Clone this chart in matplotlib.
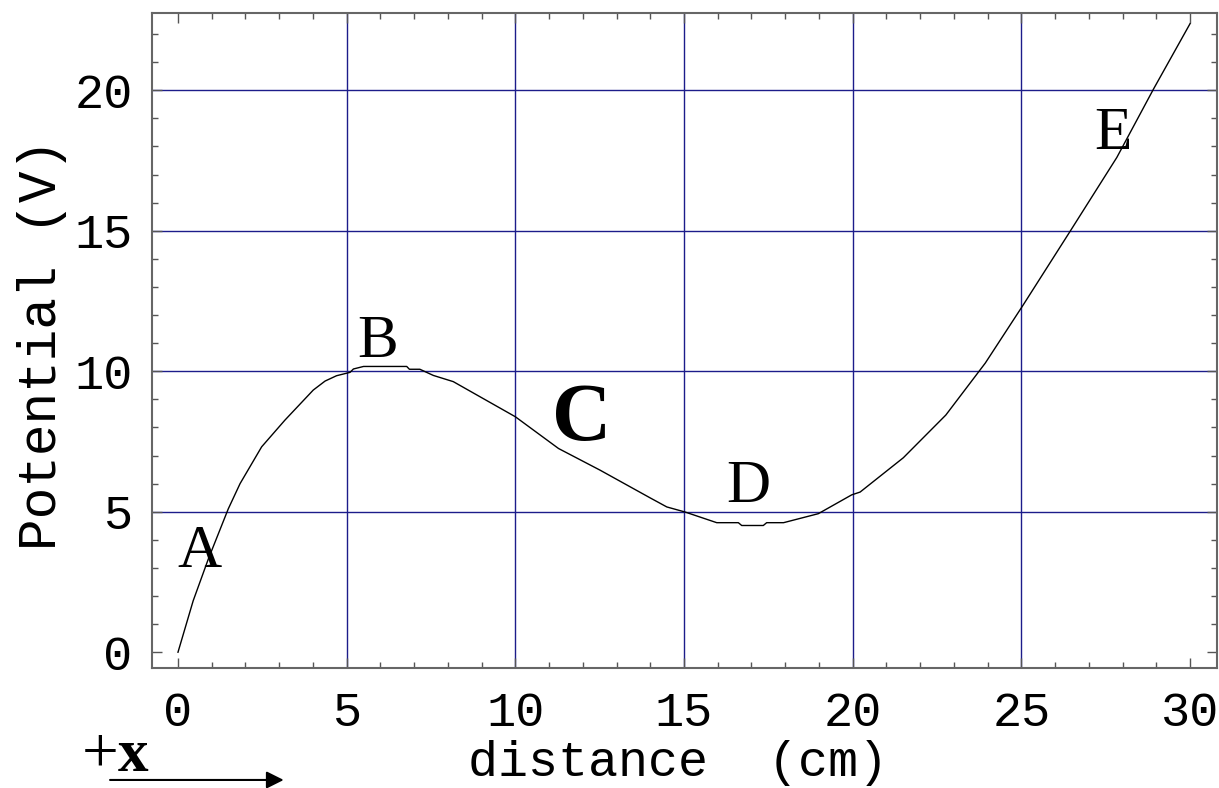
import numpy as np
import matplotlib
matplotlib.use("Agg")
import matplotlib.pyplot as plt
from matplotlib.ticker import MultipleLocator

# potential along the x axis
dist = [0, 0.45, 0.9, 1.49, 1.84, 2.48, 3.17, 4.01, 4.36, 4.7, 5.1, 5.2, 5.5,
        6.78, 6.86, 7.17, 7.57, 8.16, 10.0, 11.28, 12.51, 14.0, 14.49, 15.03,
        15.97, 16.61, 16.71, 17.35, 17.45, 17.95, 18.98, 19.97, 20.22, 21.5,
        22.76, 23.93, 25.06, 26.45, 27.83, 28.92, 30.0]
volts = [0, 1.83, 3.32, 5.1, 6.0, 7.31, 8.26, 9.33, 9.65, 9.84, 9.96, 10.08, 10.17,
         10.17, 10.07, 10.07, 9.85, 9.63, 8.38, 7.25, 6.48, 5.49, 5.17, 4.99,
         4.61, 4.61, 4.51, 4.51, 4.61, 4.61, 4.93, 5.6, 5.7, 6.92,
         8.44, 10.29, 12.37, 14.99, 17.61, 20.05, 22.37]

point_names = ["A", "B", "C", "D", "E"]
point_x = [0.65, 5.93, 11.95, 16.9, 27.72]
point_y = [3.04, 10.5, 7.55, 5.35, 17.9]

xticks = [0, 5, 10, 15, 20, 25, 30]
yticks = [0, 5, 10, 15, 20]

mono = "Liberation Mono"
serif = "Liberation Serif"
grid_col = "#1c1c8a"

fig = plt.figure(figsize=(12.19, 7.88), dpi=100)
ax = fig.add_axes([0.1247, 0.1527, 0.8737, 0.8312])

for gx in xticks[1:-1]:
    ax.axvline(gx, color=grid_col, lw=1.0, zorder=1)
for gy in yticks[1:]:
    ax.axhline(gy, color=grid_col, lw=1.0, zorder=1)

ax.plot(dist, volts, color="black", lw=1.0, zorder=3)

for name, px, py in zip(point_names, point_x, point_y):
    if name == "C":
        ax.text(px, py, name, ha="center", va="baseline", family=serif,
                fontsize=59, fontweight="bold")
    else:
        ax.text(px, py, name, ha="center", va="baseline", family=serif, fontsize=44)

ax.set_xlim(-0.77, 30.8)
ax.set_ylim(-0.55, 22.76)
ax.set_xticks(xticks)
ax.set_yticks(yticks)
ax.xaxis.set_minor_locator(MultipleLocator(1))
ax.yaxis.set_minor_locator(MultipleLocator(1))
ax.tick_params(which="both", direction="in", top=True, right=True, color="#555555")
ax.tick_params(which="major", length=7, width=1)
ax.tick_params(which="minor", length=4, width=1)
ax.tick_params(axis="x", pad=17)
ax.tick_params(axis="y", pad=14)
for lab in ax.get_xticklabels() + ax.get_yticklabels():
    lab.set_family(mono)
    lab.set_fontsize(35)
for sp in ax.spines.values():
    sp.set_color("#666666")
    sp.set_linewidth(1.5)

ax.set_xlabel("distance  (cm)", family=mono, fontsize=36)
ax.xaxis.set_label_coords(0.494, -0.11)
ax.set_ylabel("Potential (V)", family=mono, fontsize=38)
ax.yaxis.set_label_coords(-0.08, 0.494)

# +x direction marker below the axis
fig.text(0.067, 0.021, "+", family=serif, fontsize=47, ha="left", va="baseline")
fig.text(0.097, 0.021, "x", family=serif, fontsize=44, fontweight="bold",
         ha="left", va="baseline")
fig.add_artist(matplotlib.patches.FancyArrowPatch(
    (0.088, 0.0102), (0.235, 0.0102), transform=fig.transFigure,
    arrowstyle="-|>", mutation_scale=26, lw=1.5, color="black"))

fig.savefig("out.png", dpi=100)
